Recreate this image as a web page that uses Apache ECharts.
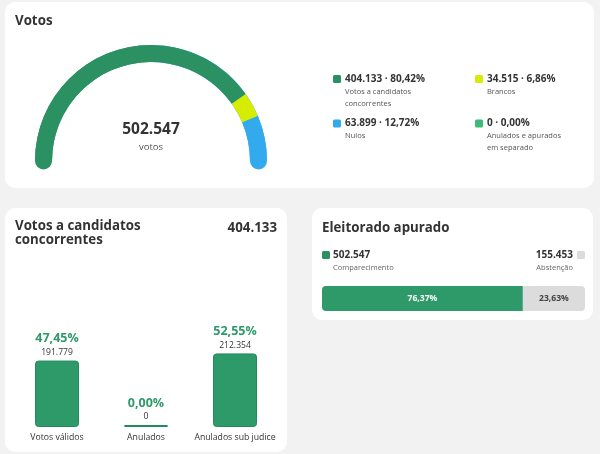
<!DOCTYPE html>
<html><head><meta charset="utf-8">
<script src="https://cdn.jsdelivr.net/npm/echarts@6/dist/echarts.min.js"></script>
<style>html,body{margin:0;padding:0;background:#f2f2f2}#c{width:600px;height:454px}</style>
</head><body><div id="c"></div>
<script>
// ---- data ----
const voteNames = ['Votos a candidatos concorrentes', 'Brancos', 'Nulos', 'Anulados e apurados em separado'];
const voteLabelLines = [['Votos a candidatos', 'concorrentes'], ['Brancos', ''], ['Nulos', ''], ['Anulados e apurados', 'em separado']];
const voteValues = [404133, 34515, 63899, 0];
const votePercents = ['80,42%', '6,86%', '12,72%', '0,00%'];
const voteColors = ['#2b9163', '#d6ec00', '#33aaee', '#3dba74'];

const candCategories = ['Votos válidos', 'Anulados', 'Anulados sub judice'];
const candValues = [191779, 0, 212354];
const candPercents = ['47,45%', '0,00%', '52,55%'];

const electorateNames = ['Comparecimento', 'Abstenção'];
const electorateValues = [502547, 155453];
const electoratePercents = ['76,37%', '23,63%'];

// ---- helpers ----
const FONT = '"Open Sans", "Noto Sans", sans-serif';
const GREEN = '#2e9a6a';
const fmt = n => String(n).replace(/\B(?=(\d{3})+(?!\d))/g, '.');
const sum = a => a.reduce((s, v) => s + v, 0);
const voteTotal = sum(voteValues);
const candTotal = sum(candValues);
const electorateTotal = sum(electorateValues);

const chart = echarts.init(document.getElementById('c'));

const voteRich = {
  g: { width: 4 },
  v: { fontSize: 10, fontWeight: 'bold', color: '#333', lineHeight: 13, width: 117, fontFamily: FONT },
  sp: { width: 12 },
  l: { fontSize: 7.5, color: '#555', lineHeight: 10, width: 117, fontFamily: FONT }
};
voteColors.forEach((c, i) => { voteRich['s' + i] = { width: 8, height: 8, backgroundColor: c, borderRadius: 1.5 }; });

const TITLE = { fontSize: 13.3, fontWeight: 'bold', fontFamily: FONT, fill: '#333' };

const option = {
  backgroundColor: '#f2f2f2',
  animation: false,
  textStyle: { fontFamily: FONT },
  graphic: [
    { type: 'rect', z: -10, shape: { x: 5, y: 2, width: 589, height: 186, r: 10 }, style: { fill: '#fff' } },
    { type: 'rect', z: -10, shape: { x: 5, y: 208, width: 282, height: 244, r: 10 }, style: { fill: '#fff' } },
    { type: 'rect', z: -10, shape: { x: 312, y: 208, width: 281, height: 112, r: 10 }, style: { fill: '#fff' } },
    { type: 'text', x: 15, y: 21, style: Object.assign({ text: 'Votos', verticalAlign: 'middle' }, TITLE) },
    { type: 'text', x: 151, y: 130, z: 10, style: { text: fmt(voteTotal), fontSize: 15.5, fontWeight: 'bold', fontFamily: FONT, fill: '#333', align: 'center', verticalAlign: 'middle' } },
    { type: 'text', x: 151, y: 147, z: 10, style: { text: 'votos', fontSize: 9.5, fontFamily: FONT, fill: '#555', align: 'center', verticalAlign: 'middle' } },
    { type: 'text', x: 15, y: 219, style: Object.assign({ text: 'Votos a candidatos\nconcorrentes', lineHeight: 14, verticalAlign: 'top' }, TITLE) },
    { type: 'text', x: 277, y: 228, style: Object.assign({ text: fmt(candTotal), align: 'right', verticalAlign: 'middle' }, TITLE) },
    { type: 'text', x: 322, y: 228, style: Object.assign({ text: 'Eleitorado apurado', verticalAlign: 'middle' }, TITLE) }
  ],
  legend: [
    {
      left: 328, top: 73, width: 290, padding: 0, itemGap: 8,
      itemWidth: 0, itemHeight: 0, selectedMode: false,
      data: voteNames,
      formatter: function (name) {
        const i = voteNames.indexOf(name);
        return '{s' + i + '|}{g|}{v|' + fmt(voteValues[i]) + ' · ' + votePercents[i] + '}\n' +
          voteLabelLines[i].map(l => '{sp|}{l|' + (l || ' ') + '}').join('\n');
      },
      textStyle: { rich: voteRich }
    },
    {
      left: 317, top: 249, padding: 0, itemWidth: 0, itemHeight: 0, selectedMode: false,
      data: [electorateNames[0]],
      formatter: function () {
        return '{sC|}{g|}{v|' + fmt(electorateValues[0]) + '}\n{sp|}{l|' + electorateNames[0] + '}';
      },
      textStyle: {
        rich: {
          sC: { width: 8, height: 8, backgroundColor: '#2b9163', borderRadius: 1.5 },
          g: { width: 3 },
          v: { fontSize: 10, fontWeight: 'bold', color: '#333', lineHeight: 14, fontFamily: FONT },
          sp: { width: 11 },
          l: { fontSize: 7.5, color: '#666', lineHeight: 12, fontFamily: FONT }
        }
      }
    },
    {
      right: 10, top: 249, padding: 0, itemWidth: 0, itemHeight: 0, selectedMode: false, align: 'right',
      data: [electorateNames[1]],
      formatter: function () {
        return '{v|' + fmt(electorateValues[1]) + '}{g|}{sA|}\n{l|' + electorateNames[1] + '}{sp|}';
      },
      textStyle: {
        align: 'right',
        rich: {
          sA: { width: 8, height: 8, backgroundColor: '#dcdcdc', borderRadius: 1.5, align: 'right' },
          g: { width: 4, align: 'right' },
          v: { fontSize: 10, fontWeight: 'bold', color: '#333', lineHeight: 14, fontFamily: FONT, align: 'right' },
          sp: { width: 12, align: 'right' },
          l: { fontSize: 7.5, color: '#666', lineHeight: 12, fontFamily: FONT, align: 'right' }
        }
      }
    }
  ],
  grid: [
    { left: 12.5, width: 267, top: 287, height: 140 },
    { left: 322, width: 263, top: 286, height: 25 }
  ],
  xAxis: [
    {
      type: 'category', gridIndex: 0, data: candCategories,
      axisLine: { show: false }, axisTick: { show: false },
      axisLabel: { color: '#333', fontSize: 8.7, margin: 6, fontFamily: FONT, interval: 0 }
    },
    { type: 'value', gridIndex: 1, min: 0, max: electorateTotal, show: false }
  ],
  yAxis: [
    { type: 'value', gridIndex: 0, min: 0, max: candTotal, show: false },
    { type: 'category', gridIndex: 1, data: ['e'], show: false }
  ],
  series: [
    {
      type: 'gauge', center: [151, 161], radius: 116, startAngle: 180, endAngle: 0, z: 1, silent: true,
      axisLine: { roundCap: true, lineStyle: { width: 17, color: [[0.5, voteColors[0]], [1, voteColors[2]]] } },
      axisTick: { show: false }, splitLine: { show: false }, axisLabel: { show: false },
      pointer: { show: false }, progress: { show: false }, anchor: { show: false },
      title: { show: false }, detail: { show: false },
      data: [{ value: 0 }]
    },
    {
      type: 'pie', center: [151, 161], radius: [99, 116], startAngle: 180, endAngle: 0, z: 3,
      silent: true, label: { show: false }, labelLine: { show: false },
      data: voteNames.map((n, i) => ({ name: n, value: voteValues[i], itemStyle: { color: voteColors[i] } }))
    },
    {
      type: 'bar', xAxisIndex: 0, yAxisIndex: 0, data: candValues, barWidth: 44, barMinHeight: 2,
      itemStyle: { color: GREEN, borderColor: '#248a5b', borderWidth: 1, borderRadius: 3 },
      label: {
        show: true, position: 'top', distance: 2,
        formatter: p => '{p|' + candPercents[p.dataIndex] + '}\n{v|' + fmt(candValues[p.dataIndex]) + '}',
        rich: {
          p: { fontSize: 12.5, fontWeight: 'bold', color: GREEN, lineHeight: 16, fontFamily: FONT },
          v: { fontSize: 8.6, color: '#333', lineHeight: 12, fontFamily: FONT }
        }
      }
    },
    {
      type: 'bar', name: electorateNames[0], xAxisIndex: 1, yAxisIndex: 1, stack: 'e', barWidth: 25,
      data: [electorateValues[0]],
      itemStyle: { color: GREEN, borderRadius: [4, 0, 0, 4] },
      label: { show: true, position: 'inside', formatter: electoratePercents[0], color: '#fff', fontSize: 8.6, fontWeight: 'bold', fontFamily: FONT }
    },
    {
      type: 'bar', name: electorateNames[1], xAxisIndex: 1, yAxisIndex: 1, stack: 'e', barWidth: 25,
      data: [electorateValues[1]],
      itemStyle: { color: '#dcdcdc', borderRadius: [0, 4, 4, 0] },
      label: { show: true, position: 'inside', formatter: electoratePercents[1], color: '#444', fontSize: 8.6, fontWeight: 'bold', fontFamily: FONT }
    }
  ]
};
chart.setOption(option);
</script>
</body></html>
